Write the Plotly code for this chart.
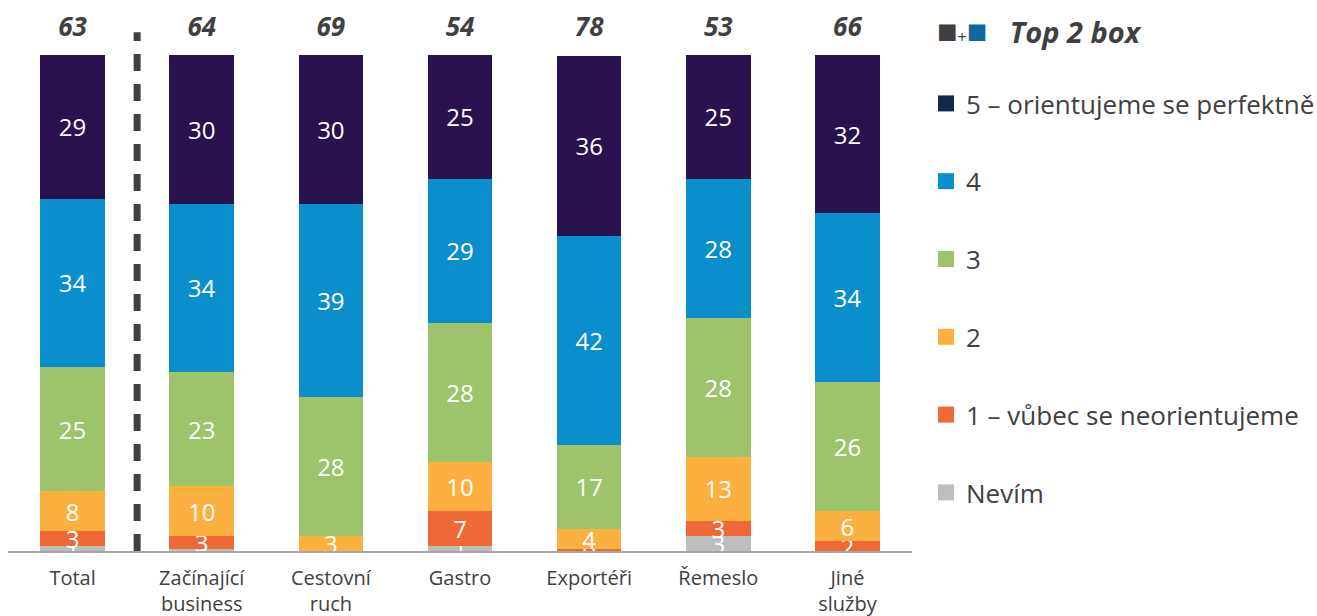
import plotly.graph_objects as go

categories = ["Total", "Začínající<br>business", "Cestovní<br>ruch", "Gastro", "Exportéři", "Řemeslo", "Jiné<br>služby"]
top2 = [63, 64, 69, 54, 78, 53, 66]

nevim = [1, 0.5, 0, 1, 0, 3, 0]
v1 = [3, 2.5, 0, 7, 0.4, 3, 2]
v2 = [8, 10, 3, 10, 4, 13, 6]
v3 = [25, 23, 28, 28, 17, 28, 26]
v4 = [34, 34, 39, 29, 42, 28, 34]
v5 = [29, 30, 30, 25, 36.4, 25, 32]

series_names = ["Nevím", "1 – vůbec se neorientujeme", "2", "3", "4", "5 – orientujeme se perfektně"]
series_values = [nevim, v1, v2, v3, v4, v5]
bar_colors = ["#BDBDBD", "#EE6936", "#FBB040", "#9DC36B", "#0A8FCC", "#2A1250"]
legend_colors = ["#BDBDBD", "#EE6936", "#FBB040", "#9DC36B", "#0A8FCC", "#13284A"]

FONT = "Open Sans"
TXT = "#404040"

fig = go.Figure()
for name, vals, col in zip(series_names, series_values, bar_colors):
    fig.add_trace(go.Bar(
        x=categories, y=vals, name=name, marker=dict(color=col, line=dict(width=0)),
        texttemplate="%{y:.0f}", textposition="inside", insidetextanchor="middle",
        constraintext="none", textangle=0,
        textfont=dict(family=FONT, size=24, color="white"),
        showlegend=False, hoverinfo="skip",
    ))

# top 2 box values
fig.add_trace(go.Scatter(
    x=categories, y=[105] * len(categories), mode="text",
    text=[f"<b><i>{v}</i></b>" for v in top2],
    textfont=dict(family=FONT, size=26, color=TXT),
    showlegend=False, hoverinfo="skip",
))

# legend entries
for i, (name, col) in enumerate(reversed(list(zip(series_names, legend_colors)))):
    fig.add_trace(go.Scatter(
        x=[None], y=[None], mode="markers", name=name,
        marker=dict(symbol="square", size=16, color=col),
        legendgroup=f"g{i}", legendrank=i,
    ))

fig.add_shape(type="line", xref="x", yref="y", x0=0.5, x1=0.5, y0=0, y1=104.5,
              line=dict(color="#404040", width=7, dash="17px,13px"))

fig.add_annotation(
    xref="paper", yref="paper", x=(935 - 8) / 904, y=(616 - 65 - 30) / 546, xanchor="left", yanchor="middle",
    text=("<span style='color:#404040;font-size:34px'>■</span><span style='color:#404040;font-size:16px'>+</span>"
          "<span style='color:#12689A;font-size:34px'>■</span>   <b><i>Top 2 box</i></b>"),
    showarrow=False, font=dict(family=FONT, size=29, color=TXT),
)

fig.update_layout(
    width=1317, height=616,
    margin=dict(l=8, r=405, t=5, b=65),
    plot_bgcolor="white", paper_bgcolor="white",
    barmode="stack", bargap=0.5,
    font=dict(family=FONT, color=TXT),
    xaxis=dict(showline=True, linecolor="#A6A6A6", linewidth=2, ticks="",
               tickfont=dict(family=FONT, size=20, color=TXT), range=[-0.5, 6.5],
               ticklabelstandoff=8, automargin=False),
    yaxis=dict(range=[0, 110], visible=False, showgrid=False, automargin=False),
    legend=dict(xref="container", yref="container", x=926 / 1317, y=1 - 80 / 616,
                xanchor="left", yanchor="top", tracegroupgap=41, maxheight=560,
                font=dict(family=FONT, size=26, color=TXT), traceorder="grouped",
                itemclick=False),
)

fig.write_html("out.html")
